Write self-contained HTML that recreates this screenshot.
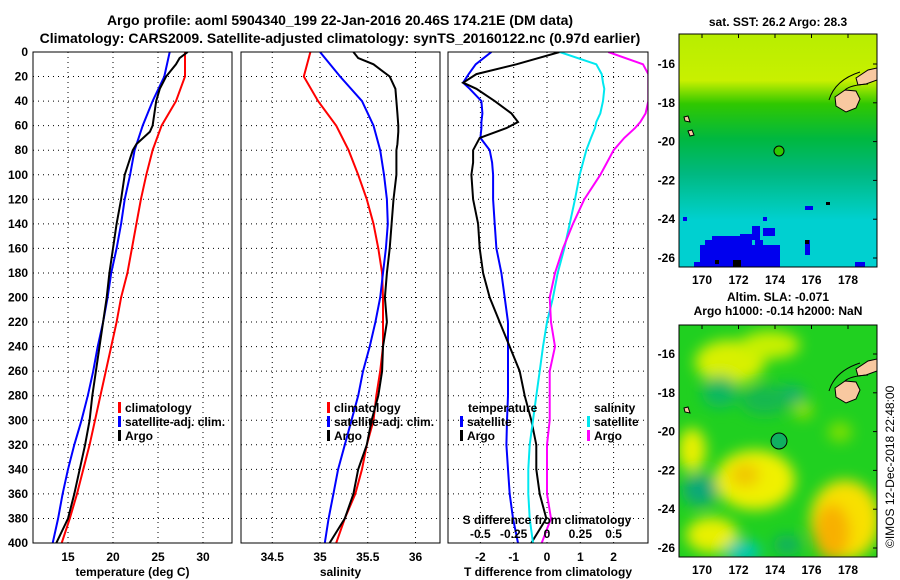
<!DOCTYPE html>
<html><head><meta charset="utf-8"><style>
html,body{margin:0;padding:0;background:#fff;}
svg{display:block;font-family:"Liberation Sans",sans-serif;font-weight:bold;}
</style></head><body>
<svg id="chart" width="900" height="580" viewBox="0 0 900 580" xmlns="http://www.w3.org/2000/svg">
<defs>
<filter id="blur6" x="-50%" y="-50%" width="200%" height="200%"><feGaussianBlur stdDeviation="7"/></filter>
<linearGradient id="sstGrad" x1="0" y1="0" x2="0" y2="1">
<stop offset="0" stop-color="#b8ee00"/><stop offset="0.2" stop-color="#c8f000"/><stop offset="0.3" stop-color="#30c800"/><stop offset="0.45" stop-color="#00b840"/><stop offset="0.6" stop-color="#00b880"/><stop offset="0.72" stop-color="#00c8b0"/><stop offset="0.8" stop-color="#00d0d0"/><stop offset="1" stop-color="#00d0d0"/>
</linearGradient>
<clipPath id="clipTop"><rect x="679" y="34" width="198" height="233"/></clipPath>
<clipPath id="clipBot"><rect x="679" y="325" width="198" height="232"/></clipPath>
<clipPath id="clip1"><rect x="33" y="52" width="199" height="491"/></clipPath>
<clipPath id="clip2"><rect x="241" y="52" width="199" height="491"/></clipPath>
<clipPath id="clip3"><rect x="448" y="52" width="200" height="491"/></clipPath>
</defs>
<text x="340" y="25" text-anchor="middle" font-size="14">Argo profile: aoml 5904340_199 22-Jan-2016 20.46S 174.21E (DM data)</text>
<text x="340" y="43" text-anchor="middle" font-size="14">Climatology: CARS2009. Satellite-adjusted climatology: synTS_20160122.nc (0.97d earlier)</text>
<g id="p1"></g>
<g id="p2"></g>
<g id="p3"></g>

<g clip-path="url(#clipTop)">
<rect x="679" y="34" width="198" height="233" fill="url(#sstGrad)"/>
<g fill="#0000ee">
<rect x="700" y="245" width="80" height="22"/><rect x="712" y="236" width="30" height="10"/><rect x="740" y="234" width="12" height="12"/><rect x="752" y="226" width="8" height="14"/><rect x="763" y="228" width="12" height="8"/><rect x="705" y="240" width="10" height="8"/><rect x="805" y="240" width="5" height="15"/><rect x="694" y="262" width="8" height="5"/><rect x="855" y="262" width="10" height="5"/><rect x="805" y="206" width="8" height="4"/><rect x="683" y="217" width="4" height="4"/><rect x="763" y="217" width="4" height="4"/><rect x="717" y="236" width="20" height="5"/><rect x="755" y="240" width="8" height="8"/></g>
<g fill="#000"><rect x="733" y="260" width="8" height="7"/><rect x="715" y="260" width="4" height="4"/><rect x="805" y="240" width="4" height="4"/><rect x="826" y="202" width="4" height="3"/></g>
<polygon fill="#f8c8a0" stroke="#000" stroke-width="1" points="835,97 845,90 856,91 860,99 856,108 846,112 836,106"/>
<polygon fill="#f8c8a0" stroke="#000" stroke-width="1" points="856,78 868,70 877,68 877,80 866,84 858,85"/>
<polygon fill="#f8c8a0" stroke="#000" stroke-width="1" points="684,117 688,116 690,122 685,121"/>
<polygon fill="#f8c8a0" stroke="#000" stroke-width="1" points="688,131 692,130 694,135 690,136"/>
<path d="M829,100 Q835,80 860,72 M845,90 Q850,85 868,84" fill="none" stroke="#000" stroke-width="1"/>
<circle cx="779" cy="151" r="5" fill="#30c800" stroke="#000" stroke-width="1"/>
</g>
<rect x="679" y="34" width="198" height="233" fill="none" stroke="#000"/>
<text x="778" y="26" text-anchor="middle" font-size="12">sat. SST: 26.2 Argo: 28.3</text>

<g clip-path="url(#clipBot)">
<rect x="679" y="325" width="198" height="232" fill="#20d020"/>
<g filter="url(#blur6)">
<ellipse cx="730" cy="362" rx="35" ry="22" fill="#d8f000"/>
<ellipse cx="770" cy="345" rx="30" ry="14" fill="#c8f000"/>
<ellipse cx="790" cy="395" rx="15" ry="10" fill="#10b070"/>
<ellipse cx="720" cy="392" rx="18" ry="16" fill="#10b860"/>
<ellipse cx="765" cy="400" rx="25" ry="15" fill="#18b850"/>
<ellipse cx="692" cy="450" rx="14" ry="22" fill="#e8f000"/>
<ellipse cx="755" cy="480" rx="40" ry="30" fill="#f0f000"/>
<ellipse cx="745" cy="475" rx="15" ry="12" fill="#f0c800"/>
<ellipse cx="700" cy="490" rx="18" ry="16" fill="#10a878"/>
<ellipse cx="712" cy="535" rx="26" ry="18" fill="#e8f000"/>
<ellipse cx="743" cy="552" rx="18" ry="12" fill="#00c8b0"/>
<ellipse cx="845" cy="520" rx="35" ry="40" fill="#f8e000"/>
<ellipse cx="832" cy="532" rx="18" ry="28" fill="#f8b000"/>
<ellipse cx="803" cy="410" rx="10" ry="9" fill="#90e000"/>
<ellipse cx="840" cy="432" rx="12" ry="10" fill="#80e000"/>
<ellipse cx="787" cy="545" rx="14" ry="10" fill="#10b060"/>
</g>
<polygon fill="#f8c8a0" stroke="#000" stroke-width="1" points="835,388 845,381 856,382 860,390 856,399 846,403 836,397"/>
<polygon fill="#f8c8a0" stroke="#000" stroke-width="1" points="856,369 868,361 877,359 877,371 866,375 858,376"/>
<polygon fill="#f8c8a0" stroke="#000" stroke-width="1" points="684,408 688,407 690,413 685,412"/>
<path d="M829,391 Q835,371 860,363 M845,381 Q850,376 868,375" fill="none" stroke="#000" stroke-width="1"/>
<circle cx="779" cy="441" r="8" fill="#10b060" stroke="#000" stroke-width="1"/>
</g>
<rect x="679" y="325" width="198" height="232" fill="none" stroke="#000"/>
<text x="778" y="301" text-anchor="middle" font-size="12">Altim. SLA: -0.071</text>
<text x="778" y="315" text-anchor="middle" font-size="12">Argo h1000: -0.14 h2000: NaN</text>
<text transform="translate(894,548) rotate(-90)" font-size="12" font-weight="normal">©IMOS 12-Dec-2018 22:48:00</text>
<g id="maps"></g>
</svg>
<script>
const depths = [0,20,40,60,80,100,120,140,160,180,200,220,240,260,280,300,320,340,360,380,400];
const tempClim = [28.0,28.0,27.0,25.4,24.4,23.7,23.1,22.6,22.1,21.6,20.9,20.4,19.8,19.2,18.6,18.0,17.4,16.7,16.0,15.2,14.3];
const tempSat  = [26.3,25.7,24.4,23.3,22.4,21.9,21.3,20.9,20.4,19.8,19.4,18.9,18.3,17.8,17.2,16.5,15.7,15.0,14.4,13.9,13.3];
const argoDepths = [0,5,10,20,30,40,50,60,65,75,80,100,120,140,160,180,200,220,240,260,280,300,320,340,360,380,400];
const tempArgo = [28.3,27.4,27.0,25.9,25.2,24.8,24.6,24.4,24.1,22.6,22.2,21.3,20.9,20.4,20.0,19.6,19.3,18.9,18.5,18.1,17.7,17.4,16.9,16.3,15.7,15.0,13.7];
const salClim = [34.90,34.83,34.98,35.17,35.30,35.40,35.49,35.56,35.61,35.65,35.66,35.66,35.66,35.63,35.59,35.56,35.49,35.44,35.37,35.26,35.17];
const salSat  = [35.00,35.21,35.44,35.56,35.63,35.67,35.70,35.71,35.69,35.66,35.63,35.58,35.52,35.45,35.40,35.33,35.26,35.19,35.14,35.09,35.05];
const salArgo = [35.35,35.40,35.56,35.73,35.79,35.80,35.81,35.82,35.82,35.81,35.80,35.80,35.77,35.75,35.73,35.70,35.68,35.70,35.66,35.65,35.61,35.54,35.49,35.40,35.35,35.26,35.10];
const diffDepths = [0,10,18,25,30,40,50,57,62,70,80,90,100,120,140,160,180,200,220,240,260,280,300,320,340,360,380,400];
const tdiffArgo = [0.38,-0.92,-2.12,-2.52,-2.12,-1.57,-1.07,-0.87,-1.22,-2.02,-2.22,-2.22,-2.27,-2.22,-2.07,-2.02,-1.92,-1.72,-1.42,-1.12,-0.82,-0.67,-0.47,-0.32,-0.32,-0.22,-0.02,-0.47];
const tdiffSat = [-1.67,-2.14,-2.35,-2.52,-2.32,-1.97,-1.94,-1.97,-1.97,-2.0,-1.72,-1.65,-1.62,-1.62,-1.57,-1.52,-1.37,-1.27,-1.17,-1.17,-1.17,-1.17,-1.2,-1.22,-1.17,-1.12,-1.02,-0.87];
const sdiffSat = [0.095,0.37,0.41,0.42,0.43,0.42,0.40,0.37,0.36,0.33,0.295,0.27,0.245,0.21,0.17,0.13,0.08,0.045,0.0,-0.03,-0.055,-0.08,-0.105,-0.13,-0.14,-0.14,-0.13,-0.105];
const sdiffArgo = [0.46,0.72,0.76,0.76,0.76,0.76,0.74,0.70,0.66,0.58,0.50,0.45,0.40,0.28,0.195,0.12,0.06,0.02,0.03,0.06,0.02,0.02,0.02,0.0,0.0,0.0,0.03,-0.04];
const depthTicks = [0,20,40,60,80,100,120,140,160,180,200,220,240,260,280,300,320,340,360,380,400];
const tempTicks = [15,20,25,30];
const salTicks = [34.5,35,35.5,36];
const tdiffTicks = [-2,-1,0,1,2];
const sdiffTicks = [-0.5,-0.25,0,0.25,0.5];
const sdiffTickLabels = ["-0.5","-0.25","0","0.25","0.5"];
const lonTicks = [170,172,174,176,178];
const latTicks = [-16,-18,-20,-22,-24,-26];

const NS="http://www.w3.org/2000/svg";
const Y0=52, Y1=543;
const yD = d => Y0 + d/400*(Y1-Y0);
function mk(parent, tag, attrs){const e=document.createElementNS(NS,tag);for(const k in attrs)e.setAttribute(k,attrs[k]);parent.appendChild(e);return e;}

function panel(g, x0, x1, xs, ticks, tickLbl, clip, title, showY){
  for(const t of ticks){
    const gl=mk(g,'line',{x1:xs(t),x2:xs(t),y1:Y0,y2:Y1,stroke:'#000','stroke-dasharray':'1,4','stroke-width':1});
    
    
  }
  for(const d of depthTicks){
    if(d===0||d===400)continue;
    const gl=mk(g,'line',{x1:x0,x2:x1,y1:yD(d),y2:yD(d),stroke:'#000','stroke-dasharray':'1,4','stroke-width':1});
    
    
  }
  ticks.forEach((t,i)=>{
    const tl=mk(g,'text',{x:xs(t),y:561,'text-anchor':'middle','font-size':12});
    tl.textContent=tickLbl[i];
    
    
  });
  if(showY){
    for(const d of depthTicks){
      const tl=mk(g,'text',{x:28,y:yD(d)+4,'text-anchor':'end','font-size':12});
      tl.textContent=d;
      
      
    }
  }
  const tt=mk(g,'text',{x:(x0+x1)/2,y:576,'text-anchor':'middle','font-size':12});
  tt.textContent=title;
  
  
  const lines=mk(g,'g',{'clip-path':'url(#'+clip+')'});
  const fr=mk(g,'rect',{x:x0,y:Y0,width:x1-x0,height:Y1-Y0,fill:'none',stroke:'#000'});
  
  
  return lines;
}
function series(g, xs, vals, ds, color, name, w){
  const p=mk(g,'polyline',{points:vals.map((v,i)=>xs(v).toFixed(1)+','+yD(ds[i]).toFixed(1)).join(' '),fill:'none',stroke:color,'stroke-width':w||2});
  
  
}
function legend(g, x, y, color, label){
  const r=mk(g,'rect',{x:x,y:y-10,width:3,height:11,fill:color});
  
  
  const t=mk(g,'text',{x:x+7,y:y,'font-size':12});
  t.textContent=label;
  
  
}

const xT = t => 68 + (t-15)*9;
const g1=document.getElementById('p1');
const l1=panel(g1,33,232,xT,tempTicks,tempTicks.map(String),'clip1','temperature (deg C)',true);
series(l1,xT,tempClim,depths,'#ff0000','temp-climatology-line');
series(l1,xT,tempSat,depths,'#0000ff','temp-satellite-line');
series(l1,xT,tempArgo,argoDepths,'#000000','temp-argo-line');
legend(g1,118,412,'#ff0000','climatology');
legend(g1,118,426,'#0000ff','satellite-adj. clim.');
legend(g1,118,440,'#000000','Argo');

const xS = s => 320 + (s-35)*95.5;
const g2=document.getElementById('p2');
const l2=panel(g2,241,440,xS,salTicks,salTicks.map(String),'clip2','salinity',false);
series(l2,xS,salClim,depths,'#ff0000','sal-climatology-line');
series(l2,xS,salSat,depths,'#0000ff','sal-satellite-line');
series(l2,xS,salArgo,argoDepths,'#000000','sal-argo-line');
legend(g2,327,412,'#ff0000','climatology');
legend(g2,327,426,'#0000ff','satellite-adj. clim.');
legend(g2,327,440,'#000000','Argo');

const xTd = t => 547 + t*33.3;
const xSd = s => 547 + s*133.3;
const g3=document.getElementById('p3');
const l3=panel(g3,448,648,xTd,tdiffTicks,tdiffTicks.map(String),'clip3','T difference from climatology',false);
series(l3,xTd,tdiffSat,diffDepths,'#0000ff','tdiff-satellite-line');
series(l3,xTd,tdiffArgo,diffDepths,'#000000','tdiff-argo-line');
series(l3,xSd,sdiffSat,diffDepths,'#00e8f0','sdiff-satellite-line');
series(l3,xSd,sdiffArgo,diffDepths,'#ff00ff','sdiff-argo-line');
const lt=mk(g3,'text',{x:468,y:412,'font-size':12});lt.textContent='temperature';


legend(g3,460,426,'#0000ff','satellite');
legend(g3,460,440,'#000000','Argo');
const ls=mk(g3,'text',{x:594,y:412,'font-size':12});ls.textContent='salinity';


legend(g3,587,426,'#00e8f0','satellite');
legend(g3,587,440,'#ff00ff','Argo');
const st=mk(g3,'text',{x:547,y:524,'text-anchor':'middle','font-size':12});st.textContent='S difference from climatology';


sdiffTicks.forEach((s,i)=>{
  const t=mk(g3,'text',{x:xSd(s),y:538,'text-anchor':'middle','font-size':12});
  t.textContent=sdiffTickLabels[i];
  
  
});

const gm=document.getElementById('maps');
function mapAxes(top, lat16y, labelY){
  const xl = l => 702 + (l-170)*18.25;
  const yl = a => lat16y + (-16-a)*19.4;
  lonTicks.forEach(l=>{
    mk(gm,'line',{x1:xl(l),x2:xl(l),y1:top,y2:top+4,stroke:'#000'});
    const t=mk(gm,'text',{x:xl(l),y:labelY,'text-anchor':'middle','font-size':12});
    t.textContent=l;
    
    
  });
  latTicks.forEach(a=>{
    mk(gm,'line',{x1:873,x2:877,y1:yl(a),y2:yl(a),stroke:'#000'});
    const t=mk(gm,'text',{x:675,y:yl(a)+4,'text-anchor':'end','font-size':12});
    t.textContent=a;
    
    
  });
}
mapAxes(34,64,284);
mapAxes(325,354,574);
</script>
</body></html>
